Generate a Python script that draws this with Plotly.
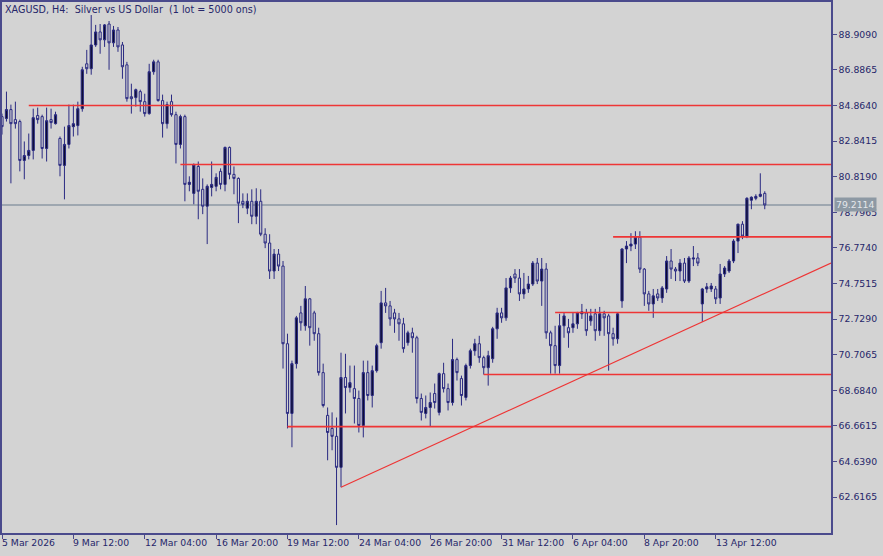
"""
XAGUSD H4 candlestick chart, MetaTrader style, with support/resistance levels and a trend line.
"""

import plotly.graph_objects as go

# bar index on the x axis (one H4 bar per step, weekend gaps removed)
bars = list(range(172))

opens = [
    84.23, 84.12, 84.63, 84.06, 83.95, 81.74, 82.02, 82.31, 84.29, 84.23,
    82.42, 84.06, 83.83, 82.99, 81.46, 82.65, 83.66, 83.72, 84.68, 87.23,
    86.95, 88.30, 89.04, 88.59, 89.49, 88.42, 89.15, 88.30, 87.17, 85.36,
    85.31, 85.65, 85.08, 84.40, 86.78, 87.34, 85.14, 83.83, 85.08, 84.34,
    82.65, 84.23, 80.38, 79.87, 81.40, 80.10, 79.14, 80.21, 80.27, 81.12,
    80.38, 82.48, 80.95, 80.72, 79.42, 79.03, 79.42, 78.57, 79.42, 77.55,
    77.05, 75.46, 76.42, 75.74, 71.33, 67.37, 70.20, 73.08, 72.35, 73.88,
    73.08, 71.90, 69.69, 67.26, 66.52, 66.07, 64.31, 69.41, 68.84, 68.78,
    68.22, 66.69, 69.69, 68.39, 69.80, 71.39, 73.65, 73.48, 73.08, 72.74,
    72.46, 71.39, 71.95, 71.67, 68.22, 67.37, 67.71, 68.50, 67.43, 69.63,
    68.78, 67.99, 70.43, 69.35, 68.28, 70.09, 70.93, 71.33, 70.54, 69.97,
    70.48, 72.18, 73.08, 72.80, 74.50, 75.29, 75.06, 74.16, 74.44, 74.72,
    75.91, 74.89, 75.57, 71.95, 71.22, 70.09, 72.35, 72.24, 72.24, 72.46,
    73.03, 73.08, 72.63, 73.03, 72.07, 73.03, 72.91, 71.90, 71.61, 73.76,
    76.71, 76.88, 76.99, 77.38, 75.57, 74.16, 73.59, 74.16, 73.93, 74.44,
    76.03, 75.57, 75.46, 75.91, 74.89, 76.14, 76.20, 73.59, 74.44, 74.44,
    74.44, 73.93, 75.29, 75.46, 76.03, 77.16, 78.12, 77.44, 79.48, 79.59,
    79.70, 79.87,
]

highs = [
    84.40, 85.65, 84.91, 85.08, 84.06, 82.82, 83.27, 84.68, 84.74, 84.34,
    84.74, 84.68, 84.51, 83.10, 83.66, 84.91, 84.91, 85.08, 87.06, 88.02,
    90.00, 89.44, 89.49, 89.49, 89.66, 89.38, 89.32, 88.47, 87.34, 86.10,
    85.82, 85.76, 85.53, 87.23, 87.46, 87.46, 85.48, 85.08, 85.48, 84.51,
    84.34, 84.34, 80.84, 81.57, 81.68, 80.72, 80.38, 81.68, 81.01, 81.29,
    82.53, 82.53, 81.40, 80.78, 79.87, 79.87, 80.10, 80.16, 80.10, 77.89,
    77.55, 76.71, 76.71, 76.03, 71.90, 70.37, 72.91, 73.48, 74.61, 73.93,
    73.20, 72.24, 70.20, 67.71, 67.43, 67.14, 70.82, 70.76, 70.09, 70.09,
    68.67, 70.37, 70.37, 70.09, 71.33, 74.33, 74.50, 73.76, 73.31, 73.08,
    72.80, 72.07, 72.24, 71.78, 68.50, 68.39, 68.56, 69.07, 69.69, 70.25,
    69.07, 71.61, 70.54, 69.52, 70.20, 71.05, 71.61, 71.78, 70.65, 70.93,
    72.29, 73.37, 73.37, 75.06, 75.18, 75.57, 75.57, 75.35, 75.18, 76.03,
    76.20, 76.20, 75.91, 72.07, 72.35, 73.03, 73.08, 72.74, 73.08, 73.14,
    73.59, 73.31, 73.31, 73.31, 73.42, 73.20, 73.03, 72.24, 73.08, 76.76,
    77.16, 77.61, 77.72, 77.72, 75.63, 74.33, 74.44, 74.44, 74.61, 76.31,
    76.71, 75.69, 76.14, 76.20, 76.31, 76.88, 76.48, 74.50, 74.78, 74.78,
    74.61, 75.86, 75.74, 76.14, 77.27, 78.15, 78.29, 79.65, 79.70, 79.82,
    81.01, 79.99,
]

lows = [
    83.21, 83.95, 80.44, 83.55, 81.12, 80.67, 81.80, 81.80, 83.83, 81.85,
    81.68, 83.55, 83.78, 80.84, 79.53, 82.42, 83.10, 83.16, 84.51, 86.66,
    86.61, 88.19, 87.80, 88.19, 86.89, 88.19, 87.91, 86.38, 85.08, 84.40,
    84.80, 84.51, 84.23, 84.34, 86.61, 85.08, 83.04, 83.55, 84.23, 81.57,
    82.42, 79.42, 79.99, 79.25, 78.40, 78.69, 76.99, 79.70, 79.99, 80.10,
    79.99, 80.67, 79.82, 78.18, 79.03, 78.69, 78.12, 78.12, 77.44, 76.76,
    75.01, 75.01, 75.46, 69.92, 66.52, 65.45, 69.92, 72.07, 72.07, 71.22,
    71.50, 69.52, 67.71, 64.71, 65.28, 61.03, 63.18, 67.37, 68.56, 66.80,
    66.29, 66.01, 68.11, 67.71, 69.69, 71.05, 73.08, 72.35, 71.95, 71.50,
    70.82, 71.22, 70.82, 67.94, 66.97, 67.09, 66.63, 67.65, 67.26, 68.56,
    67.54, 67.82, 69.24, 67.82, 68.11, 69.92, 70.65, 70.25, 69.58, 68.95,
    70.25, 71.61, 72.52, 72.63, 74.22, 74.78, 73.76, 73.88, 74.22, 74.61,
    74.72, 73.48, 71.61, 69.63, 69.63, 69.63, 71.67, 71.10, 71.95, 72.18,
    72.74, 71.78, 72.35, 71.50, 71.78, 71.78, 69.80, 71.22, 71.33, 73.37,
    75.91, 76.59, 76.71, 75.35, 73.48, 73.20, 72.80, 73.76, 73.65, 74.22,
    75.01, 74.89, 74.89, 74.78, 74.78, 75.74, 75.74, 72.57, 74.22, 74.27,
    73.59, 73.59, 75.12, 75.35, 75.91, 76.48, 77.27, 77.33, 78.97, 79.48,
    79.65, 78.97,
]

closes = [
    83.66, 84.63, 83.83, 83.83, 81.74, 82.02, 82.31, 84.17, 84.06, 82.42,
    84.00, 83.89, 84.34, 81.46, 82.65, 83.72, 83.83, 84.68, 86.89, 86.95,
    88.30, 89.04, 88.59, 89.44, 88.42, 89.15, 88.19, 87.06, 85.25, 85.25,
    85.76, 85.08, 84.40, 86.78, 87.34, 85.14, 83.83, 84.91, 84.34, 82.65,
    84.23, 80.38, 80.50, 81.51, 79.99, 79.14, 80.27, 80.38, 80.78, 80.38,
    82.48, 80.95, 80.72, 79.31, 79.25, 79.42, 78.57, 79.42, 77.55, 77.05,
    75.46, 76.42, 75.74, 71.33, 67.37, 70.20, 72.80, 72.52, 73.88, 72.24,
    71.90, 69.69, 67.82, 66.29, 66.07, 64.31, 69.41, 68.84, 69.12, 68.22,
    66.69, 69.69, 68.39, 69.80, 71.22, 73.65, 73.48, 72.74, 72.74, 72.46,
    71.05, 71.95, 71.67, 68.22, 67.43, 67.71, 67.99, 67.99, 69.63, 68.78,
    67.99, 70.43, 69.69, 68.39, 70.09, 70.93, 71.33, 70.54, 69.97, 70.65,
    72.18, 73.08, 72.80, 74.50, 75.06, 75.06, 74.16, 74.44, 74.72, 75.91,
    74.89, 75.57, 71.95, 71.22, 70.09, 72.35, 72.91, 71.95, 72.46, 73.08,
    73.14, 72.07, 72.91, 72.07, 73.03, 72.80, 71.90, 71.61, 73.03, 76.71,
    76.88, 76.99, 77.38, 75.57, 74.16, 73.59, 74.05, 73.93, 74.50, 76.03,
    75.57, 75.46, 75.91, 74.89, 76.20, 76.20, 75.91, 74.44, 74.56, 74.61,
    73.88, 75.29, 75.63, 76.03, 77.16, 78.12, 77.44, 79.59, 79.65, 79.70,
    79.82, 79.2114,
]

time_ticks = [0, 16, 32, 48, 64, 80, 96, 112, 128, 144, 160]
time_labels = [
    "5 Mar 2026", "9 Mar 12:00", "12 Mar 04:00", "16 Mar 20:00",
    "19 Mar 12:00", "24 Mar 04:00", "26 Mar 20:00", "31 Mar 12:00",
    "6 Apr 04:00", "8 Apr 20:00", "13 Apr 12:00",
]

price_ticks = [
    62.6165, 64.6390, 66.6615, 68.6840, 70.7065, 72.7290, 74.7515,
    76.7740, 78.7965, 80.8190, 82.8415, 84.8640, 86.8865, 88.9090,
]

# horizontal levels: price and the bar they are drawn from
level_prices = [84.86, 81.51, 77.40, 73.10, 69.58, 66.62]
level_start_bars = [6, 40, 137, 124, 108, 64]

# trend line anchors (ray to the right)
trend_bars = [76, 157]
trend_prices = [63.18, 72.57]

last_price = 79.2114

BG = "#d3d3d3"
EDGE = "#2a2a82"
BULL = "#0c0c2e"
AXIS = "#4a4a8c"
TEXT = "#26266a"
RED = "#ee3535"
FONT = "DejaVu Sans"

X_MIN, X_MAX = 0, 185.85
Y_MIN, Y_MAX = 60.58, 90.74

fig = go.Figure()

fig.add_trace(
    go.Candlestick(
        x=bars,
        open=opens,
        high=highs,
        low=lows,
        close=closes,
        increasing=dict(line=dict(color=EDGE, width=1), fillcolor=BULL),
        decreasing=dict(line=dict(color=EDGE, width=1), fillcolor=BG),
        whiskerwidth=0,
        showlegend=False,
        hoverinfo="skip",
    )
)

shapes = []

# current price line
shapes.append(
    dict(
        type="line", xref="paper", yref="y", x0=0, x1=1,
        y0=last_price, y1=last_price,
        line=dict(color="#8c99a5", width=1.5), layer="below",
    )
)

for start, price in zip(level_start_bars, level_prices):
    shapes.append(
        dict(
            type="line", xref="x", yref="y", x0=start, x1=X_MAX,
            y0=price, y1=price, line=dict(color=RED, width=1.6),
        )
    )

slope = (trend_prices[1] - trend_prices[0]) / (trend_bars[1] - trend_bars[0])
shapes.append(
    dict(
        type="line", xref="x", yref="y",
        x0=trend_bars[0], y0=trend_prices[0],
        x1=X_MAX, y1=trend_prices[0] + slope * (X_MAX - trend_bars[0]),
        line=dict(color=RED, width=1.2),
    )
)

annotations = []
for tick, label in zip(time_ticks, time_labels):
    annotations.append(
        dict(
            x=tick, y=0, xref="x", yref="paper",
            text=label, showarrow=False,
            xanchor="left", yanchor="top", xshift=-2, yshift=-2,
            font=dict(family=FONT, size=9.3, color=TEXT),
        )
    )

annotations.append(
    dict(
        x=0, y=1, xref="paper", yref="paper",
        text="XAGUSD, H4:\u00a0 Silver vs US Dollar\u00a0 (1 lot = 5000 ons)",
        showarrow=False, xanchor="left", yanchor="top", xshift=1, yshift=0,
        font=dict(family=FONT, size=9.6, color=TEXT),
    )
)

annotations.append(
    dict(
        x=1, y=last_price, xref="paper", yref="y",
        text=f"{last_price:.4f}", showarrow=False,
        xanchor="left", yanchor="middle", xshift=3,
        bgcolor="#8d99a4", borderpad=1,
        font=dict(family=FONT, size=9.3, color="#e4e7ea"),
    )
)

fig.update_layout(
    width=883,
    height=556,
    margin=dict(l=0, r=52, t=0, b=23),
    paper_bgcolor=BG,
    plot_bgcolor=BG,
    shapes=shapes,
    annotations=annotations,
    showlegend=False,
    xaxis=dict(
        range=[X_MIN, X_MAX],
        rangeslider=dict(visible=False),
        showgrid=False,
        zeroline=False,
        showline=True,
        linecolor=AXIS,
        linewidth=1.5,
        mirror=True,
        ticks="outside",
        ticklen=4,
        tickcolor=AXIS,
        tickvals=time_ticks,
        showticklabels=False,
    ),
    yaxis=dict(
        range=[Y_MIN, Y_MAX],
        side="right",
        showgrid=False,
        zeroline=False,
        showline=True,
        linecolor=AXIS,
        linewidth=1.5,
        mirror=True,
        ticks="outside",
        ticklen=4,
        tickcolor=AXIS,
        tickvals=price_ticks,
        ticktext=[f"{p:.4f}" for p in price_ticks],
        tickfont=dict(family=FONT, size=9.3, color=TEXT),
    ),
)

# the page's default body margin would shift the chart by 8px
fig.write_html(
    "out.html",
    config={"displayModeBar": False},
    post_script="document.body.style.margin='0';",
)
